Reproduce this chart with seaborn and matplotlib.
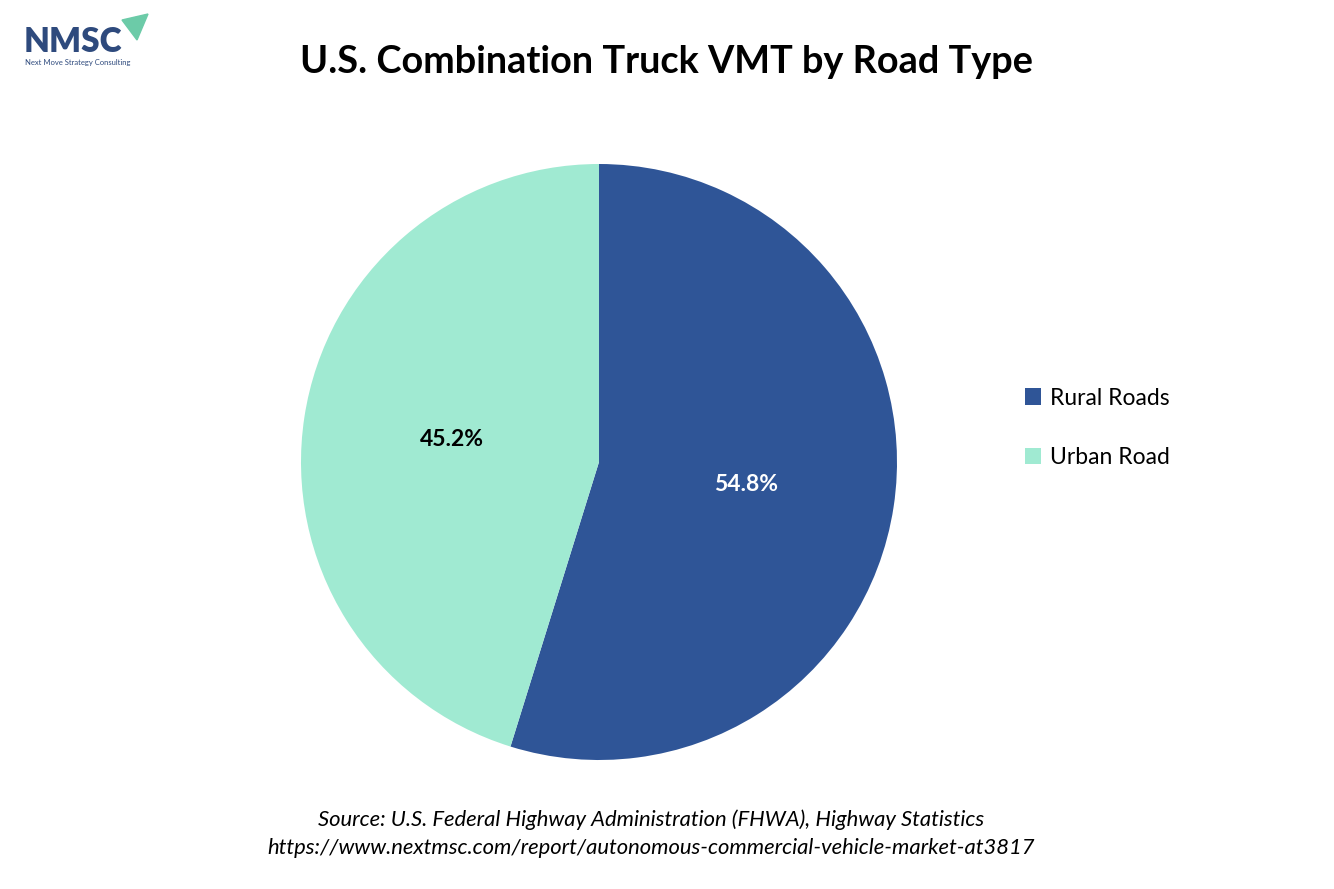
import matplotlib.pyplot as plt
import seaborn as sns
from matplotlib.patches import Polygon

# data
road_types = ["Rural Roads", "Urban Road"]
vmt_share = [54.8, 45.2]
slice_colors = ["#2F5597", "#A0EAD2"]
label_colors = ["white", "black"]

sns.set_theme(style="white")
plt.rcParams["font.family"] = ["Lato", "DejaVu Sans"]

W, H = 1334, 889
fig = plt.figure(figsize=(W / 100, H / 100), dpi=100)

# pie axes: centre (599, 462), radius 298 px
cx, cy, r = 599, 462, 298
ax = fig.add_axes([(cx - r) / W, (H - cy - r) / H, 2 * r / W, 2 * r / H])
wedges, _, autotexts = ax.pie(
    vmt_share,
    colors=slice_colors,
    startangle=90,
    counterclock=False,
    autopct="%.1f%%",
    pctdistance=0.5,
    radius=1,
    wedgeprops=dict(linewidth=0),
    textprops=dict(fontsize=16.5, fontweight="bold"),
)
for t, c in zip(autotexts, label_colors):
    t.set_color(c)
ax.set_xlim(-1, 1)
ax.set_ylim(-1, 1)
ax.set_aspect("equal")
ax.axis("off")

fig.legend(
    wedges, road_types,
    loc="center left", bbox_to_anchor=(1004 / W, 1 - 428 / H),
    frameon=False, fontsize=16.5, handlelength=0.7, handleheight=0.7,
    labelspacing=1.7, handletextpad=0.4, labelcolor="black",
)

fig.text(667 / W, 1 - 62 / H, "U.S. Combination Truck VMT by Road Type",
         ha="center", va="center", fontsize=27.3, fontweight="bold", color="black")

fig.text(651 / W, 1 - 820 / H,
         "Source: U.S. Federal Highway Administration (FHWA), Highway Statistics",
         ha="center", va="center", fontsize=15.8, style="italic", color="black")
fig.text(651 / W, 1 - 848 / H,
         "https://www.nextmsc.com/report/autonomous-commercial-vehicle-market-at3817",
         ha="center", va="center", fontsize=15.8, style="italic", color="black")

# logo
fig.text(24 / W, 1 - 42 / H, "NMSC", ha="left", va="center", fontsize=24,
         fontweight="heavy", color="#2E4A7D")
fig.text(25 / W, 1 - 62 / H, "Next Move Strategy Consulting", ha="left",
         va="center", fontsize=5.5, color="#2E4A7D")
arrow = Polygon([(122 / W, 1 - 20 / H), (148 / W, 1 - 14 / H), (137 / W, 1 - 40 / H)],
                closed=True, transform=fig.transFigure, color="#6CCBA8")
fig.patches.append(arrow)

fig.savefig("out.png", dpi=100, facecolor="white")
